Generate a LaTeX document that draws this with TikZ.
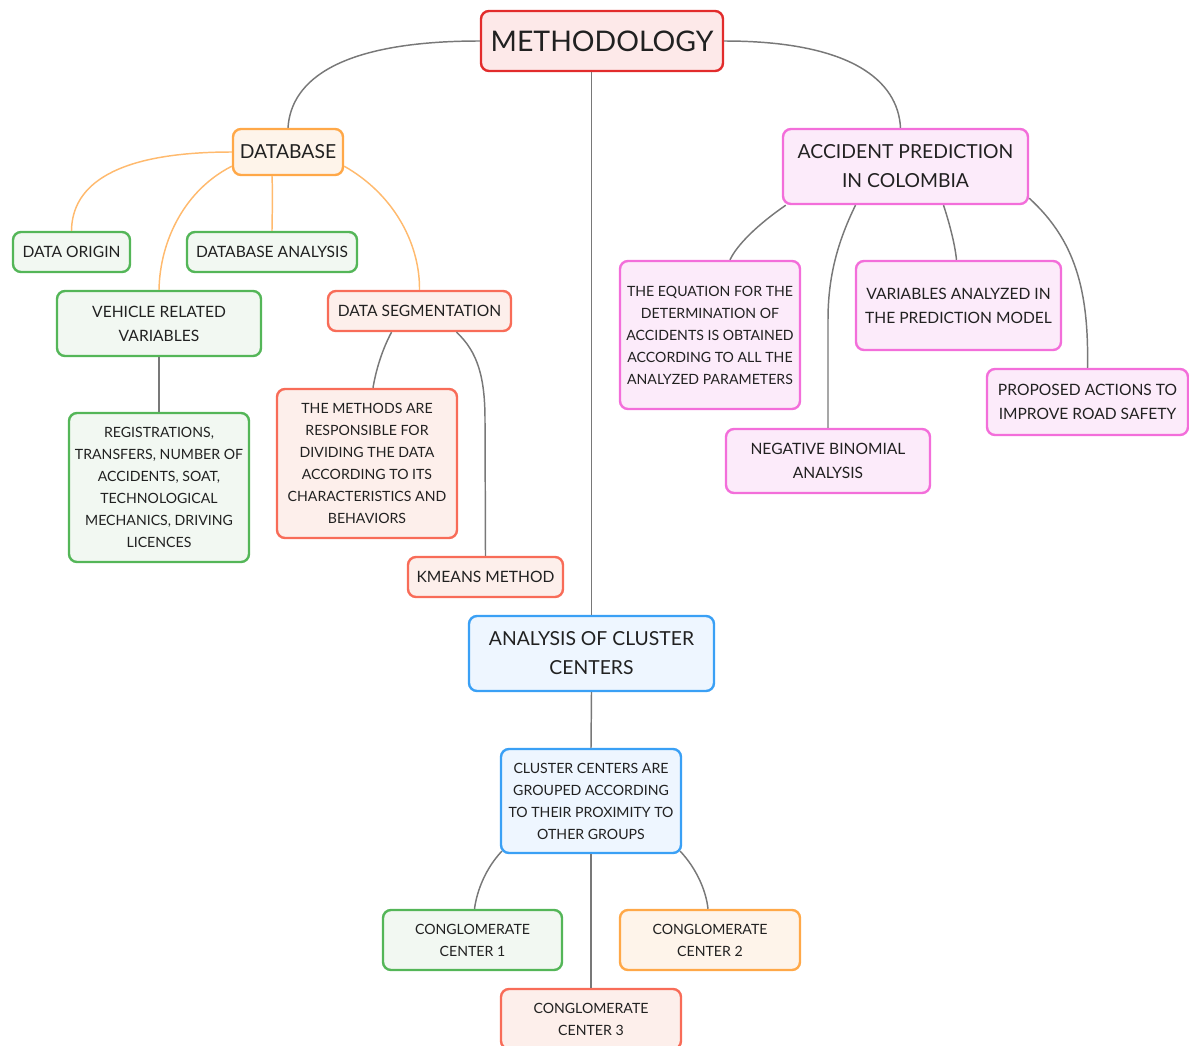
\documentclass[tikz,border=0pt]{standalone}
\usepackage{fontspec}
\setmainfont{Lato}
\usetikzlibrary{calc}

\definecolor{redline}{RGB}{226,44,44}
\definecolor{redfill}{RGB}{253,233,233}
\definecolor{orangeline}{RGB}{255,168,72}
\definecolor{orangefill}{RGB}{254,244,234}
\definecolor{pinkline}{RGB}{243,110,218}
\definecolor{pinkfill}{RGB}{252,235,250}
\definecolor{greenline}{RGB}{84,182,88}
\definecolor{greenfill}{RGB}{242,248,242}
\definecolor{coralline}{RGB}{248,108,88}
\definecolor{coralfill}{RGB}{253,239,235}
\definecolor{blueline}{RGB}{58,160,245}
\definecolor{bluefill}{RGB}{238,246,255}
\definecolor{linegray}{RGB}{120,120,120}
\definecolor{lineorange}{RGB}{255,186,110}

\newcommand{\fsHuge}{\fontsize{21.3}{25}\selectfont}
\newcommand{\fsBig}{\fontsize{14.5}{21.75}\selectfont}
\newcommand{\fsMid}{\fontsize{11.7}{18}\selectfont}
\newcommand{\fsSmall}{\fontsize{10.6}{16.5}\selectfont}

\tikzset{every picture/.style={line width=0.75pt}}
\tikzset{
  box/.style={draw, rounded corners=6pt, line width=1.8pt, align=center, inner sep=0pt, text=black!87},
  redbox/.style={box, draw=redline, fill=redfill},
  orangebox/.style={box, draw=orangeline, fill=orangefill},
  pinkbox/.style={box, draw=pinkline, fill=pinkfill},
  greenbox/.style={box, draw=greenline, fill=greenfill},
  coralbox/.style={box, draw=coralline, fill=coralfill},
  bluebox/.style={box, draw=blueline, fill=bluefill},
  conn/.style={draw=linegray, line width=1.1pt},
  dbconn/.style={draw=lineorange, line width=1.1pt},
}

\begin{document}
\begin{tikzpicture}[x=0.75pt,y=0.75pt,yscale=-1,xscale=1]
\useasboundingbox (0,0) rectangle (1189,1046);

%Root
\node [redbox, minimum width=181.5pt, minimum height=45pt, font=\fsHuge] (meth) at (602,41) {METHODOLOGY};

%Database branch
\node [orangebox, minimum width=82.5pt, minimum height=34.5pt, font=\fsBig] (db) at (288,152) {DATABASE};
\node [greenbox, minimum width=87.75pt, minimum height=30pt, font=\fsMid] (origin) at (71.5,252) {DATA ORIGIN};
\node [greenbox, minimum width=127.5pt, minimum height=30pt, font=\fsMid] (dbana) at (272,252) {DATABASE ANALYSIS};
\node [greenbox, minimum width=153pt, minimum height=48.75pt, font=\fsMid] (vehicle) at (159,323.5) {VEHICLE RELATED\\VARIABLES};
\node [coralbox, minimum width=137.25pt, minimum height=30pt, font=\fsMid] (seg) at (419.5,311) {DATA SEGMENTATION};
\node [greenbox, minimum width=135pt, minimum height=111.75pt, font=\fsSmall] (regis) at (159,487.5) {REGISTRATIONS,\\TRANSFERS, NUMBER OF\\ACCIDENTS, SOAT,\\TECHNOLOGICAL\\MECHANICS, DRIVING\\LICENCES};
\node [coralbox, minimum width=135pt, minimum height=111.75pt, font=\fsSmall] (methods) at (367,463.5) {THE METHODS ARE\\RESPONSIBLE FOR\\DIVIDING THE DATA\\ACCORDING TO ITS\\CHARACTERISTICS AND\\BEHAVIORS};
\node [coralbox, minimum width=116.25pt, minimum height=30pt, font=\fsMid] (kmeans) at (485.5,577) {KMEANS METHOD};

%Prediction branch
\node [pinkbox, minimum width=183.75pt, minimum height=56.25pt, font=\fsBig] (acc) at (905.5,166.5) {ACCIDENT PREDICTION\\IN COLOMBIA};
\node [pinkbox, minimum width=135pt, minimum height=111pt, font=\fsSmall] (equation) at (710,335) {THE EQUATION FOR THE\\DETERMINATION OF\\ACCIDENTS IS OBTAINED\\ACCORDING TO ALL THE\\ANALYZED PARAMETERS};
\node [pinkbox, minimum width=153.75pt, minimum height=66.75pt, font=\fsMid] (variables) at (958.5,305.5) {VARIABLES ANALYZED IN\\THE PREDICTION MODEL};
\node [pinkbox, minimum width=150.75pt, minimum height=49.5pt, font=\fsMid] (proposed) at (1087.5,402) {PROPOSED ACTIONS TO\\IMPROVE ROAD SAFETY};
\node [pinkbox, minimum width=153pt, minimum height=48pt, font=\fsMid] (negative) at (828,461) {NEGATIVE BINOMIAL\\ANALYSIS};

%Cluster branch
\node [bluebox, minimum width=183.75pt, minimum height=56.25pt, font=\fsBig] (analysis) at (591.5,653.5) {ANALYSIS OF CLUSTER\\CENTERS};
\node [bluebox, minimum width=135pt, minimum height=78pt, font=\fsSmall] (cluster) at (591,801) {CLUSTER CENTERS ARE\\GROUPED ACCORDING\\TO THEIR PROXIMITY TO\\OTHER GROUPS};
\node [greenbox, minimum width=134.25pt, minimum height=45pt, font=\fsSmall] (cc1) at (472.5,940) {CONGLOMERATE\\CENTER 1};
\node [orangebox, minimum width=135pt, minimum height=45pt, font=\fsSmall] (cc2) at (710,940) {CONGLOMERATE\\CENTER 2};
\node [coralbox, minimum width=135pt, minimum height=45pt, font=\fsSmall] (cc3) at (591,1019) {CONGLOMERATE\\CENTER 3};

%Root links
\draw [conn] (meth.west) .. controls (340,41) and (291,80) .. (db.north);
\draw [conn] (meth.east) .. controls (850,41) and (898,80) .. ($(acc.north)+(-5,0)$);
\draw [conn] (meth.south -| analysis.north) -- (analysis.north);

%Database links
\draw [dbconn] (db.west) .. controls (115,152) and (72,185) .. (origin.north);
\draw [dbconn] ($(db.south west)+(0,-10)$) .. controls (185,190) and (160,240) .. (vehicle.north);
\draw [dbconn] (dbana.north |- db.south) .. controls (273,200) and (272,215) .. (dbana.north);
\draw [dbconn] ($(db.south east)+(0,-10)$) .. controls (395,195) and (420,245) .. (seg.north);
\draw [conn] (vehicle.south) -- (regis.north);
\draw [conn] ($(seg.south)+(-28,0)$) .. controls (382,350) and (376,370) .. ($(methods.north)+(6,0)$);
\draw [conn] ($(seg.south)+(37,0)$) .. controls (478,352) and (485,378) .. (485,420) -- (kmeans.north);

%Prediction links
\draw [conn] ($(acc.south west)+(4,0)$) .. controls (757,225) and (737,245) .. ($(equation.north)+(20,0)$);
\draw [conn] ($(acc.south)+(-50,0)$) .. controls (836,245) and (828,280) .. (828,320) -- (negative.north);
\draw [conn] ($(acc.south)+(38,0)$) .. controls (950,225) and (955,245) .. ($(variables.north)+(-2,0)$);
\draw [conn] ($(acc.south east)+(0,-7)$) .. controls (1075,240) and (1089,290) .. (proposed.north);

%Cluster links
\draw [conn] (analysis.south) -- (cluster.north);
\draw [conn] ($(cluster.south west)+(2,-3)$) .. controls (486,868) and (477,890) .. ($(cc1.north)+(2,0)$);
\draw [conn] (cluster.south) -- (cc3.north);
\draw [conn] ($(cluster.south east)+(-2,-3)$) .. controls (696,868) and (706,890) .. ($(cc2.north)+(-2,0)$);

\end{tikzpicture}
\end{document}
